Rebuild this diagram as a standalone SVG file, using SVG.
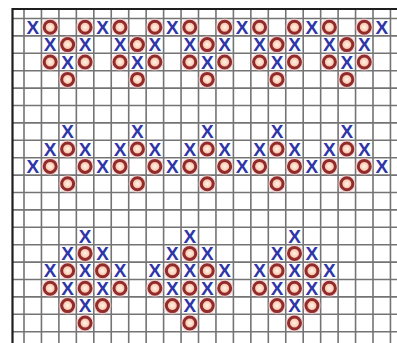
<svg xmlns="http://www.w3.org/2000/svg" width="397" height="343" viewBox="0 0 397 343">
<defs>
<style>
.g{stroke:#747474;stroke-width:1.6;fill:none}
.b{stroke:#1e1e1e;stroke-width:2.2;fill:none}
.x{font-family:"Liberation Sans",Arial,sans-serif;font-weight:bold;font-size:19px;fill:#2e36a8;text-anchor:middle}
</style>
<radialGradient id="og" cx="0.5" cy="0.5" r="0.5">
<stop offset="0" stop-color="#fff5ec"/>
<stop offset="0.55" stop-color="#fbd2bb"/>
<stop offset="1" stop-color="#f0a58c"/>
</radialGradient>
<g id="o">
<circle r="9" fill="#f2bdbb" opacity="0.5"/>
<circle r="6" fill="url(#og)" stroke="#922b2b" stroke-width="3"/>
</g>
</defs>
<rect width="397" height="343" fill="#ffffff"/>
<g id="grid">
<path class="g" d="M24 9V343M41.45 9V343M58.9 9V343M76.35 9V343M93.8 9V343M111.25 9V343M128.7 9V343M146.15 9V343M163.6 9V343M181.05 9V343M198.5 9V343M215.95 9V343M233.4 9V343M250.85 9V343M268.3 9V343M285.75 9V343M303.2 9V343M320.65 9V343M338.1 9V343M355.55 9V343M373 9V343M390.45 9V343"/>
<path class="g" d="M12.5 18.5H397M12.5 35.9H397M12.5 53.3H397M12.5 70.7H397M12.5 88.1H397M12.5 105.5H397M12.5 122.9H397M12.5 140.3H397M12.5 157.7H397M12.5 175.1H397M12.5 192.5H397M12.5 209.9H397M12.5 227.3H397M12.5 244.7H397M12.5 262.1H397M12.5 279.5H397M12.5 296.9H397M12.5 314.3H397M12.5 331.7H397"/>
<path class="b" d="M12.5 343V9H397"/>
</g>
<g id="band-top">
<g id="top-row1">
<text class="x" x="32.73" y="33.8">X</text>
<text class="x" x="102.53" y="33.8">X</text>
<text class="x" x="172.33" y="33.8">X</text>
<text class="x" x="242.13" y="33.8">X</text>
<text class="x" x="311.93" y="33.8">X</text>
<text class="x" x="381.73" y="33.8">X</text>
<use href="#o" x="50.18" y="27.2"/>
<use href="#o" x="85.08" y="27.2"/>
<use href="#o" x="119.98" y="27.2"/>
<use href="#o" x="154.88" y="27.2"/>
<use href="#o" x="189.78" y="27.2"/>
<use href="#o" x="224.68" y="27.2"/>
<use href="#o" x="259.58" y="27.2"/>
<use href="#o" x="294.48" y="27.2"/>
<use href="#o" x="329.38" y="27.2"/>
<use href="#o" x="364.28" y="27.2"/>
</g>
<g id="top-row2">
<text class="x" x="50.18" y="51.2">X</text>
<text class="x" x="85.08" y="51.2">X</text>
<text class="x" x="119.98" y="51.2">X</text>
<text class="x" x="154.88" y="51.2">X</text>
<text class="x" x="189.78" y="51.2">X</text>
<text class="x" x="224.68" y="51.2">X</text>
<text class="x" x="259.58" y="51.2">X</text>
<text class="x" x="294.48" y="51.2">X</text>
<text class="x" x="329.38" y="51.2">X</text>
<text class="x" x="364.28" y="51.2">X</text>
<use href="#o" x="67.63" y="44.6"/>
<use href="#o" x="137.43" y="44.6"/>
<use href="#o" x="207.23" y="44.6"/>
<use href="#o" x="277.03" y="44.6"/>
<use href="#o" x="346.83" y="44.6"/>
</g>
<g id="top-row3">
<use href="#o" x="50.18" y="62"/>
<use href="#o" x="85.08" y="62"/>
<use href="#o" x="119.98" y="62"/>
<use href="#o" x="154.88" y="62"/>
<use href="#o" x="189.78" y="62"/>
<use href="#o" x="224.68" y="62"/>
<use href="#o" x="259.58" y="62"/>
<use href="#o" x="294.48" y="62"/>
<use href="#o" x="329.38" y="62"/>
<use href="#o" x="364.28" y="62"/>
<text class="x" x="67.63" y="68.6">X</text>
<text class="x" x="137.43" y="68.6">X</text>
<text class="x" x="207.23" y="68.6">X</text>
<text class="x" x="277.03" y="68.6">X</text>
<text class="x" x="346.83" y="68.6">X</text>
</g>
<g id="top-row4">
<use href="#o" x="67.63" y="79.4"/>
<use href="#o" x="137.43" y="79.4"/>
<use href="#o" x="207.23" y="79.4"/>
<use href="#o" x="277.03" y="79.4"/>
<use href="#o" x="346.83" y="79.4"/>
</g>
</g>
<g id="band-middle">
<g id="mid-row7">
<text class="x" x="67.63" y="138.2">X</text>
<text class="x" x="137.43" y="138.2">X</text>
<text class="x" x="207.23" y="138.2">X</text>
<text class="x" x="277.03" y="138.2">X</text>
<text class="x" x="346.83" y="138.2">X</text>
</g>
<g id="mid-row8">
<text class="x" x="50.18" y="155.6">X</text>
<text class="x" x="85.08" y="155.6">X</text>
<text class="x" x="119.98" y="155.6">X</text>
<text class="x" x="154.88" y="155.6">X</text>
<text class="x" x="189.78" y="155.6">X</text>
<text class="x" x="224.68" y="155.6">X</text>
<text class="x" x="259.58" y="155.6">X</text>
<text class="x" x="294.48" y="155.6">X</text>
<text class="x" x="329.38" y="155.6">X</text>
<text class="x" x="364.28" y="155.6">X</text>
<use href="#o" x="67.63" y="149"/>
<use href="#o" x="137.43" y="149"/>
<use href="#o" x="207.23" y="149"/>
<use href="#o" x="277.03" y="149"/>
<use href="#o" x="346.83" y="149"/>
</g>
<g id="mid-row9">
<text class="x" x="32.73" y="173">X</text>
<text class="x" x="102.53" y="173">X</text>
<text class="x" x="172.33" y="173">X</text>
<text class="x" x="242.13" y="173">X</text>
<text class="x" x="311.93" y="173">X</text>
<text class="x" x="381.73" y="173">X</text>
<use href="#o" x="50.18" y="166.4"/>
<use href="#o" x="85.08" y="166.4"/>
<use href="#o" x="119.98" y="166.4"/>
<use href="#o" x="154.88" y="166.4"/>
<use href="#o" x="189.78" y="166.4"/>
<use href="#o" x="224.68" y="166.4"/>
<use href="#o" x="259.58" y="166.4"/>
<use href="#o" x="294.48" y="166.4"/>
<use href="#o" x="329.38" y="166.4"/>
<use href="#o" x="364.28" y="166.4"/>
</g>
<g id="mid-row10">
<use href="#o" x="67.63" y="183.8"/>
<use href="#o" x="137.43" y="183.8"/>
<use href="#o" x="207.23" y="183.8"/>
<use href="#o" x="277.03" y="183.8"/>
<use href="#o" x="346.83" y="183.8"/>
</g>
</g>
<g id="band-bottom">
<g id="diamond-1">
<text class="x" x="85.08" y="242.6">X</text>
<text class="x" x="67.63" y="260">X</text>
<use href="#o" x="85.08" y="253.4"/>
<text class="x" x="102.53" y="260">X</text>
<text class="x" x="50.18" y="277.4">X</text>
<use href="#o" x="67.63" y="270.8"/>
<text class="x" x="85.08" y="277.4">X</text>
<use href="#o" x="102.53" y="270.8"/>
<text class="x" x="119.98" y="277.4">X</text>
<use href="#o" x="50.18" y="288.2"/>
<text class="x" x="67.63" y="294.8">X</text>
<use href="#o" x="85.08" y="288.2"/>
<text class="x" x="102.53" y="294.8">X</text>
<use href="#o" x="119.98" y="288.2"/>
<use href="#o" x="67.63" y="305.6"/>
<text class="x" x="85.08" y="312.2">X</text>
<use href="#o" x="102.53" y="305.6"/>
<use href="#o" x="85.08" y="323"/>
</g>
<g id="diamond-2">
<text class="x" x="189.78" y="242.6">X</text>
<text class="x" x="172.33" y="260">X</text>
<use href="#o" x="189.78" y="253.4"/>
<text class="x" x="207.23" y="260">X</text>
<text class="x" x="154.88" y="277.4">X</text>
<use href="#o" x="172.33" y="270.8"/>
<text class="x" x="189.78" y="277.4">X</text>
<use href="#o" x="207.23" y="270.8"/>
<text class="x" x="224.68" y="277.4">X</text>
<use href="#o" x="154.88" y="288.2"/>
<text class="x" x="172.33" y="294.8">X</text>
<use href="#o" x="189.78" y="288.2"/>
<text class="x" x="207.23" y="294.8">X</text>
<use href="#o" x="224.68" y="288.2"/>
<use href="#o" x="172.33" y="305.6"/>
<text class="x" x="189.78" y="312.2">X</text>
<use href="#o" x="207.23" y="305.6"/>
<use href="#o" x="189.78" y="323"/>
</g>
<g id="diamond-3">
<text class="x" x="294.48" y="242.6">X</text>
<text class="x" x="277.03" y="260">X</text>
<use href="#o" x="294.48" y="253.4"/>
<text class="x" x="311.93" y="260">X</text>
<text class="x" x="259.58" y="277.4">X</text>
<use href="#o" x="277.03" y="270.8"/>
<text class="x" x="294.48" y="277.4">X</text>
<use href="#o" x="311.93" y="270.8"/>
<text class="x" x="329.38" y="277.4">X</text>
<use href="#o" x="259.58" y="288.2"/>
<text class="x" x="277.03" y="294.8">X</text>
<use href="#o" x="294.48" y="288.2"/>
<text class="x" x="311.93" y="294.8">X</text>
<use href="#o" x="329.38" y="288.2"/>
<use href="#o" x="277.03" y="305.6"/>
<text class="x" x="294.48" y="312.2">X</text>
<use href="#o" x="311.93" y="305.6"/>
<use href="#o" x="294.48" y="323"/>
</g>
</g>
</svg>
